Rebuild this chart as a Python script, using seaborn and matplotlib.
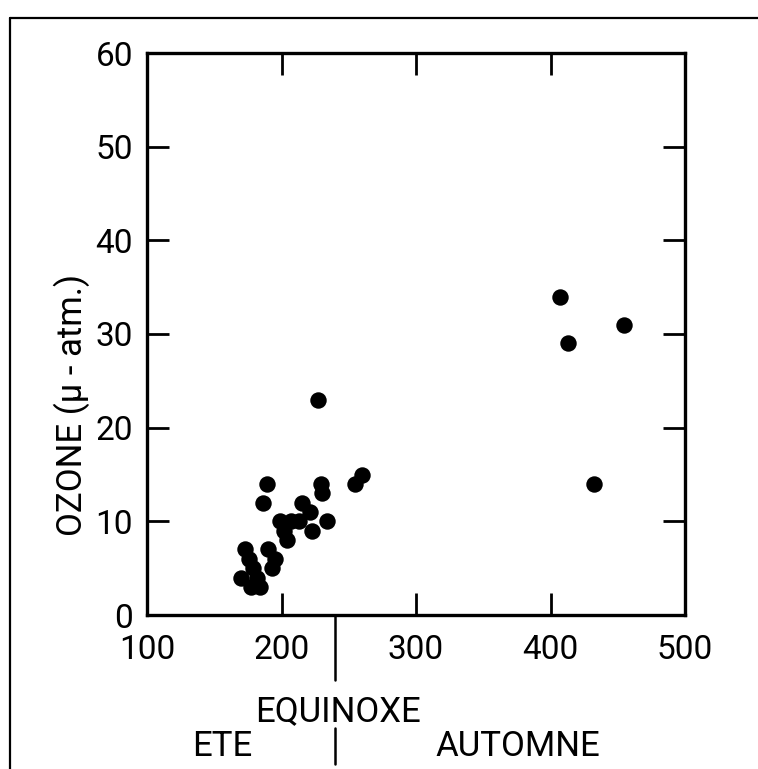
import matplotlib
matplotlib.use("Agg")
import matplotlib.pyplot as plt
import matplotlib.transforms as mtransforms
from matplotlib.lines import Line2D
import seaborn as sns
import pandas as pd

# ---- data ----
jours = [227, 189, 186, 229, 230, 255, 260, 234, 215, 221, 223, 199, 207, 213,
         202, 204, 190, 195, 193, 173, 176, 179, 170, 177, 184, 182,
         407, 413, 455, 432]
ozone = [23, 14, 12, 14, 13, 14, 15, 10, 12, 11, 9, 10, 10, 10,
         9, 8, 7, 6, 5, 7, 6, 5, 4, 3, 3, 4,
         34, 29, 31, 14]
x_ticks = [100, 200, 300, 400, 500]
y_ticks = [0, 10, 20, 30, 40, 50, 60]
equinoxe = 240
saisons = ["ETE", "AUTOMNE"]

df = pd.DataFrame({"x": jours, "y": ozone})

sns.set_style("ticks")
plt.rcParams["font.family"] = ["Roboto", "DejaVu Sans"]
plt.rcParams["text.color"] = "black"
plt.rcParams["xtick.color"] = "black"
plt.rcParams["ytick.color"] = "black"

W, H = 758, 769
FS = 24
FL = 25
fig = plt.figure(figsize=(W / 100, H / 100), dpi=100)
ax = fig.add_axes([147 / W, 1 - 615 / H, (685 - 147) / W, (615 - 53) / H])

sns.scatterplot(data=df, x="x", y="y", ax=ax, color="black", s=140,
                edgecolor="black", linewidth=0, legend=False)

ax.set_xlim(100, 500)
ax.set_ylim(0, 60)
ax.set_xticks(x_ticks)
ax.set_yticks(y_ticks)
ax.set_xticklabels([str(t) for t in x_ticks])
ax.set_yticklabels([str(t) for t in y_ticks])
ax.tick_params(axis="both", direction="in", length=16, width=2.0,
               labelsize=FS, colors="black", top=True, right=True)
ax.tick_params(axis="x", pad=14)
ax.tick_params(axis="y", pad=10)
for s in ax.spines.values():
    s.set_linewidth(2.4)
    s.set_color("black")
ax.set_xlabel("")
ax.set_ylabel("")

# equinox marker below the axis
trans = mtransforms.blended_transform_factory(ax.transData, ax.transAxes)
ax.plot([equinoxe, equinoxe], [0, -0.115], transform=trans, color="black",
        lw=1.8, clip_on=False)

fig.text(338 / W, 1 - 712 / H, "EQUINOXE", ha="center", va="center", fontsize=FL)
fig.text(72 / W, 1 - 405 / H, "OZONE (µ - atm.)", ha="center", va="center",
         rotation=90, fontsize=FL)
fig.text(222 / W, 1 - 746 / H, saisons[0], ha="center", va="center", fontsize=FL)
fig.text(518 / W, 1 - 746 / H, saisons[1], ha="center", va="center", fontsize=FL)

# separator and outer frame
xsep = ax.transData.transform((equinoxe, 0))[0] / W
fig.add_artist(Line2D([xsep, xsep], [1 - 728 / H, 1 - 764 / H], color="black", lw=1.8))
fig.add_artist(Line2D([10 / W, 10 / W], [1 - 18 / H, 0.0], color="black", lw=1.6))
fig.add_artist(Line2D([10 / W, 1.0], [1 - 18 / H, 1 - 18 / H], color="black", lw=1.6))

fig.savefig("out.png", dpi=100, facecolor="white")
